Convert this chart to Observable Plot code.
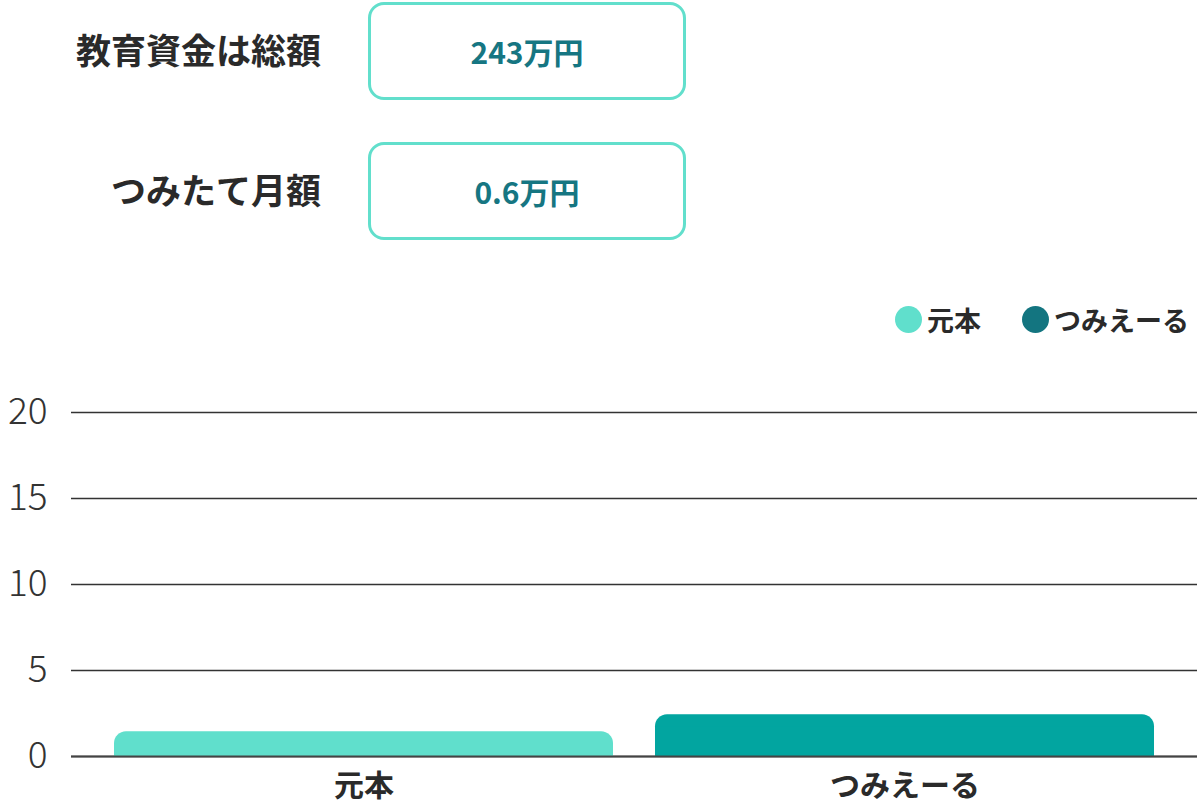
<!DOCTYPE html>
<html>
<head>
<meta charset="utf-8">
<script src="https://cdn.jsdelivr.net/npm/d3@7"></script>
<script src="https://cdn.jsdelivr.net/npm/@observablehq/plot@0.6"></script>
<style>
  html, body { margin: 0; padding: 0; background: #fff; width: 1197px; height: 804px; overflow: hidden; position: relative;
    font-family: "Noto Sans CJK JP", "Noto Sans", sans-serif; }
  .lbl { position: absolute; left: 0; width: 321px; text-align: right; font-size: 35px; font-weight: 700; color: #2a2a2a; line-height: 1; }
  .box { position: absolute; left: 368px; width: 312px; height: 92px; border: 3px solid #62DFCC; border-radius: 16px;
    display: flex; align-items: center; justify-content: center; color: #167682; font-size: 30px; font-weight: 700; box-sizing: content-box; }
  .legend { position: absolute; top: 300px; right: 8px; display: flex; align-items: center; font-size: 27px; font-weight: 700; color: #2a2a2a; }
  .legend .item { display: flex; align-items: center; margin-left: 41px; }
  .legend .sw { width: 27px; height: 27px; border-radius: 50%; margin-right: 5px; }
  #chart { position: absolute; left: 0; top: 380px; }
</style>
</head>
<body>
<div id="info"></div>
<div class="legend" id="legend"></div>
<div id="chart"></div>
<script>
const infoLabels = ["教育資金は総額", "つみたて月額"];
const infoValues = ["243万円", "0.6万円"];
const categories = ["元本", "つみえーる"];
const values = [1.44, 2.43];
const barColors = ["#60DFCC", "#02A5A0"];
const legendColors = ["#60DFCC", "#137580"];
const yTicks = [0, 5, 10, 15, 20];

// header info rows
const info = document.getElementById("info");
infoLabels.forEach((t, i) => {
  const top = 2 + i * 140;
  const l = document.createElement("div");
  l.className = "lbl";
  l.style.top = (top + 29) + "px";
  l.textContent = t;
  info.appendChild(l);
  const b = document.createElement("div");
  b.className = "box";
  b.style.top = top + "px";
  b.textContent = infoValues[i];
  info.appendChild(b);
});

// legend
const legend = document.getElementById("legend");
categories.forEach((c, i) => {
  const it = document.createElement("div");
  it.className = "item";
  const sw = document.createElement("span");
  sw.className = "sw";
  sw.style.background = legendColors[i];
  it.appendChild(sw);
  const tx = document.createElement("span");
  tx.textContent = c;
  it.appendChild(tx);
  legend.appendChild(it);
});

const data = categories.map((c, i) => ({cat: c, value: values[i]}));

const chart = Plot.plot({
  width: 1197,
  height: 424,
  marginLeft: 71,
  marginRight: 0,
  marginTop: 32,
  marginBottom: 48,
  style: {fontFamily: '"Noto Sans CJK JP", "Noto Sans", sans-serif', background: "transparent", overflow: "visible"},
  x: {domain: categories, padding: 0.0775, label: null},
  y: {domain: [0, 20], label: null},
  color: {domain: categories, range: barColors},
  marks: [
    Plot.ruleY(yTicks, {stroke: "#333", strokeWidth: 1.5}),
    Plot.barY(data, {x: "cat", y: "value", fill: "cat", rx: 12}),
    Plot.barY(data, {x: "cat", y: "value", fill: "cat", insetTop: 12}),
    Plot.ruleY([0], {stroke: "#444", strokeWidth: 2}),
    Plot.axisY({ticks: yTicks, tickSize: 0, tickPadding: 24, fontSize: 37, fontWeight: 300, fill: "#333", label: null}),
    Plot.axisX({tickSize: 0, tickPadding: 18, fontSize: 30, fontWeight: 700, fill: "#2a2a2a", label: null})
  ]
});
document.getElementById("chart").appendChild(chart);
</script>
</body>
</html>
